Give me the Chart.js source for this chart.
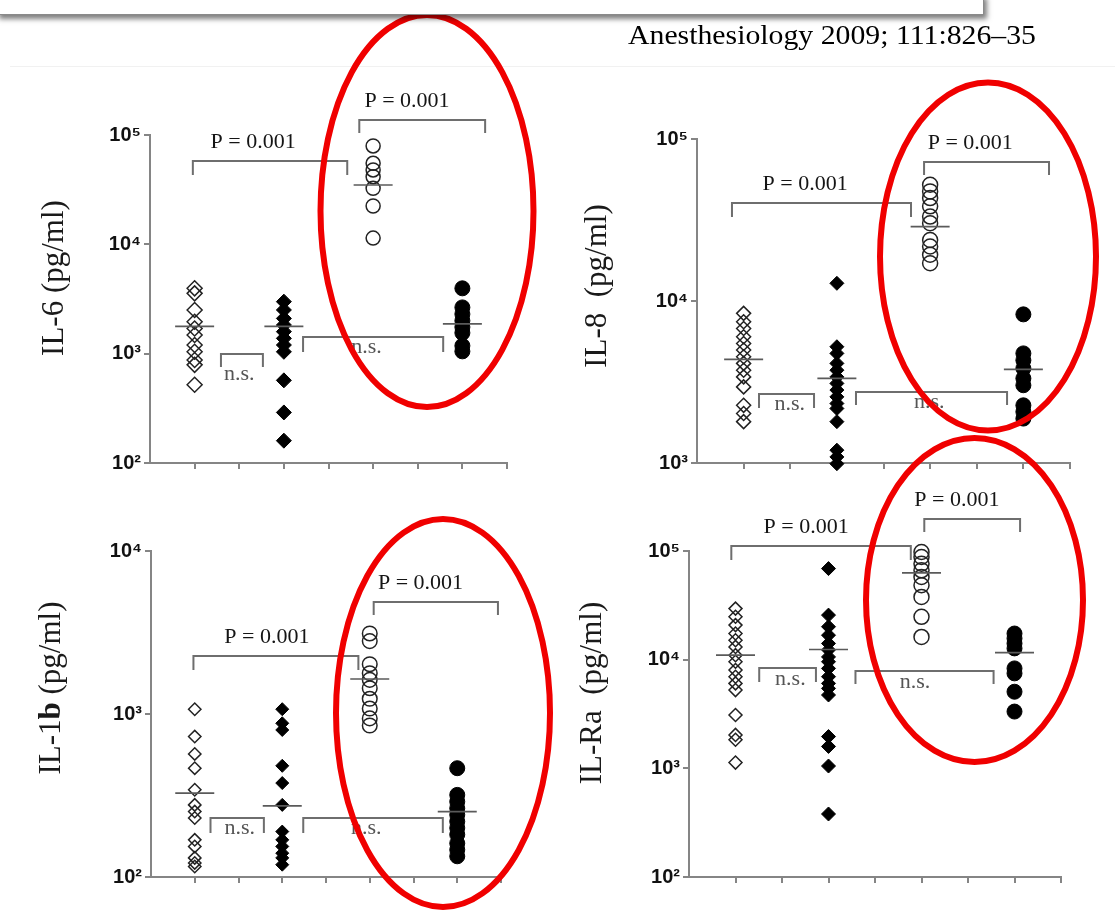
<!DOCTYPE html>
<html><head><meta charset="utf-8">
<script src="https://cdn.jsdelivr.net/npm/chart.js@4.4.1/dist/chart.umd.min.js"></script>
<style>
html,body{margin:0;padding:0;background:#fff;}
#wrap{position:relative;width:1115px;height:911px;overflow:hidden;background:#fff;}
canvas{position:absolute;left:0;top:0;}
#edge{position:absolute;left:10px;top:66px;width:1105px;height:1px;background:#f1f1f1;}
#box{position:absolute;left:-4px;top:-6px;width:986px;height:19px;border:1px solid #8a8a8a;background:#fff;box-shadow:3px 4px 5px rgba(0,0,0,.5);}
#cite{position:absolute;left:628px;top:22px;font-family:"Liberation Serif",serif;font-size:27px;line-height:27px;color:#000;white-space:nowrap;transform-origin:0 0;}
</style></head><body>
<div id="wrap">
<div id="edge"></div>
<canvas id="c1" width="1115" height="911"></canvas>
<canvas id="c2" width="1115" height="911"></canvas>
<canvas id="c3" width="1115" height="911"></canvas>
<canvas id="c4" width="1115" height="911"></canvas>
<div id="box"></div>
<div id="cite">Anesthesiology 2009; 111:826–35</div>
</div>
<script>
// ---------- data ----------
const groupPos = [1, 3, 5, 7];
const SUP = {2: '²', 3: '³', 4: '⁴', 5: '⁵'};

// IL-6
const il6Ticks = [1e2, 1e3, 1e4, 1e5];
const il6OpenDiamond   = [3960, 3560, 2510, 1960, 1700, 1480, 1200, 1040, 875, 790, 520];
const il6FilledDiamond = [2990, 2510, 2100, 1830, 1590, 1380, 1200, 1040, 570, 290, 160];
const il6OpenCircle    = [79400, 55100, 47900, 41600, 32500, 22400, 11400];
const il6FilledCircle  = [3960, 2650, 2300, 2000, 1750, 1550, 1180, 1050];
const il6Median        = [1780, 1780, 34900, 1870];

// IL-8
const il8Ticks = [1e3, 1e4, 1e5];
const il8OpenDiamond   = [8390, 7450, 6770, 6020, 5470, 4980, 4530, 4120, 3740, 3400, 2950, 2270, 2020, 1800];
const il8FilledDiamond = [12860, 5220, 4750, 4120, 3740, 3400, 3100, 2820, 2560, 2330, 2170, 1800, 1200, 1090, 990];
const il8OpenCircle    = [52200, 47500, 43200, 38400, 33200, 30200, 23800, 21700, 19300, 17100];
const il8FilledCircle  = [8270, 4750, 4310, 3840, 3330, 3020, 2270, 2070, 1880];
const il8Median        = [4360, 3330, 28800, 3780];

// IL-1b
const il1bTicks = [1e2, 1e3, 1e4];
const il1bOpenDiamond   = [1070, 727, 569, 465, 343, 277, 252, 230, 169, 154, 131, 122, 116];
const il1bFilledDiamond = [1070, 877, 798, 481, 377, 277, 190, 169, 154, 140, 131, 119];
const il1bOpenCircle    = [3120, 2800, 2020, 1780, 1620, 1440, 1240, 1080, 940, 850];
const il1bFilledCircle  = [465, 319, 290, 264, 241, 219, 200, 182, 161, 147, 134];
const il1bMedian        = [327, 273, 1640, 252];

// IL-Ra
const ilraTicks = [1e2, 1e3, 1e4, 1e5];
const ilraOpenDiamond   = [29500, 24800, 20800, 17400, 15100, 13100, 11000, 9570, 8020, 6970, 6050, 5250, 3100, 2030, 1830, 1130];
const ilraFilledDiamond = [68900, 25700, 20100, 16800, 14100, 12300, 10600, 9570, 8310, 6970, 6050, 5440, 4730, 1960, 1590, 1050, 380];
const ilraOpenCircle    = [97900, 88100, 76500, 66400, 57700, 48400, 37800, 24800, 16200];
const ilraFilledCircle  = [17400, 15700, 14100, 12700, 8310, 7480, 5070, 3330];
const ilraMedian        = [11000, 12400, 62800, 11600];

// significance brackets: from/to (x units), top/leg (y values), label, label x
const il6Brackets = [
  {from: 0.96, to: 4.42, top: 57800, leg: 43100, text: 'P = 0.001', at: 2.31, dy: -13},
  {from: 4.69, to: 7.51, top: 137000, leg: 104300, text: 'P = 0.001', at: 5.76, dy: -13},
  {from: 1.59, to: 2.53, top: 993, leg: 755, text: 'n.s.', at: 2.0, dy: 26},
  {from: 3.43, to: 6.57, top: 1419, leg: 1035, text: 'n.s.', at: 4.85, dy: 16}
];
const il8Brackets = [
  {from: 0.75, to: 4.59, top: 40270, leg: 33040, text: 'P = 0.001', at: 2.32, dy: -13},
  {from: 4.87, to: 7.55, top: 72100, leg: 59970, text: 'P = 0.001', at: 5.86, dy: -13},
  {from: 1.33, to: 2.51, top: 2667, leg: 2188, text: 'n.s.', at: 1.99, dy: 16},
  {from: 3.41, to: 6.65, top: 2743, leg: 2281, text: 'n.s.', at: 4.98, dy: 16}
];
const il1bBrackets = [
  {from: 0.97, to: 4.74, top: 2270, leg: 1862, text: 'P = 0.001', at: 2.65, dy: -13},
  {from: 5.09, to: 7.93, top: 4865, leg: 4045, text: 'P = 0.001', at: 6.16, dy: -13},
  {from: 1.36, to: 2.58, top: 230, leg: 186, text: 'n.s.', at: 2.03, dy: 16},
  {from: 3.48, to: 6.67, top: 230, leg: 186, text: 'n.s.', at: 4.92, dy: 16}
];
const ilraBrackets = [
  {from: 0.91, to: 4.77, top: 111200, leg: 82600, text: 'P = 0.001', at: 2.52, dy: -13},
  {from: 5.06, to: 7.12, top: 196900, leg: 149600, text: 'P = 0.001', at: 5.76, dy: -13},
  {from: 1.51, to: 2.73, top: 8380, leg: 6240, text: 'n.s.', at: 2.18, dy: 17},
  {from: 3.58, to: 6.55, top: 7870, leg: 5970, text: 'n.s.', at: 4.86, dy: 17}
];

// ---------- layout ----------
const panels = [
  {id: 'c1', area: {l: 150, t: 135, r: 507, b: 463}, ticks: il6Ticks,
   series: [il6OpenDiamond, il6FilledDiamond, il6OpenCircle, il6FilledCircle], median: il6Median,
   brackets: il6Brackets, radius: [7.5, 7.5, 7, 7.5],
   title: [['IL-6 (pg/ml)', 'normal']], titleAt: [63, 278]},
  {id: 'c2', area: {l: 697, t: 139, r: 1070, b: 463}, ticks: il8Ticks,
   series: [il8OpenDiamond, il8FilledDiamond, il8OpenCircle, il8FilledCircle], median: il8Median,
   brackets: il8Brackets, radius: [7, 7, 7.5, 7.5],
   title: [['IL-8  (pg/ml)', 'normal']], titleAt: [606, 286]},
  {id: 'c3', area: {l: 151, t: 551, r: 501, b: 877}, ticks: il1bTicks,
   series: [il1bOpenDiamond, il1bFilledDiamond, il1bOpenCircle, il1bFilledCircle], median: il1bMedian,
   brackets: il1bBrackets, radius: [6.2, 6.5, 7.3, 7.5],
   title: [['IL-1', 'normal'], ['b', 'bold'], [' (pg/ml)', 'normal']], titleAt: [60, 688]},
  {id: 'c4', area: {l: 689, t: 551, r: 1061, b: 877}, ticks: ilraTicks,
   series: [ilraOpenDiamond, ilraFilledDiamond, ilraOpenCircle, ilraFilledCircle], median: ilraMedian,
   brackets: ilraBrackets, radius: [6.5, 7, 7.5, 7.5],
   title: [['IL-Ra  (pg/ml)', 'normal']], titleAt: [601, 693]}
];

const ellipses = [
  {cx: 427, cy: 211, rx: 106.5, ry: 196},
  {cx: 988, cy: 256.5, rx: 108, ry: 174},
  {cx: 443, cy: 713, rx: 107, ry: 194},
  {cx: 974.5, cy: 600, rx: 108.5, ry: 162}
];

const AXIS = '#858585';
const W = 1115, H = 911, YW = 60, XH = 20;

function makeDecor(p) {
  return {
    id: 'decor_' + p.id,
    afterDatasetsDraw(chart) {
      const ctx = chart.ctx, xs = chart.scales.x, ys = chart.scales.y;
      ctx.save();
      p.brackets.forEach(b => {
        const x1 = xs.getPixelForValue(b.from), x2 = xs.getPixelForValue(b.to);
        const yt = ys.getPixelForValue(b.top), yl = ys.getPixelForValue(b.leg);
        ctx.strokeStyle = '#6e6e6e'; ctx.lineWidth = 2;
        ctx.beginPath(); ctx.moveTo(x1, yl); ctx.lineTo(x1, yt); ctx.lineTo(x2, yt); ctx.lineTo(x2, yl); ctx.stroke();
        const ns = b.text === 'n.s.';
        ctx.font = '22px "Liberation Serif", serif';
        ctx.fillStyle = ns ? '#555' : '#151515';
        ctx.textAlign = 'center'; ctx.textBaseline = 'alphabetic';
        ctx.fillText(b.text, xs.getPixelForValue(b.at), yt + b.dy);
      });
      // y-axis title (rotated, mixed weights)
      ctx.translate(p.titleAt[0], p.titleAt[1]);
      ctx.rotate(-Math.PI / 2);
      ctx.textBaseline = 'alphabetic'; ctx.textAlign = 'left'; ctx.fillStyle = '#1a1a1a';
      let total = 0;
      const widths = p.title.map(([t, w]) => { ctx.font = w + ' 31px "Liberation Serif", serif'; const m = ctx.measureText(t).width; total += m; return m; });
      let x = -total / 2;
      p.title.forEach(([t, w], i) => { ctx.font = w + ' 31px "Liberation Serif", serif'; ctx.fillText(t, x, 0); x += widths[i]; });
      ctx.restore();
    }
  };
}

const ellipsePlugin = {
  id: 'ellipses',
  afterDraw(chart) {
    const ctx = chart.ctx;
    ctx.save();
    ctx.strokeStyle = '#f00000'; ctx.lineWidth = 6;
    ellipses.forEach(e => { ctx.beginPath(); ctx.ellipse(e.cx, e.cy, e.rx, e.ry, 0, 0, Math.PI * 2); ctx.stroke(); });
    ctx.restore();
  }
};

const styles = [
  {pointStyle: 'rectRot', bg: 'rgba(0,0,0,0)', border: '#222', bw: 1.5},
  {pointStyle: 'rectRot', bg: '#000', border: '#000', bw: 1},
  {pointStyle: 'circle', bg: 'rgba(0,0,0,0)', border: '#222', bw: 1.5},
  {pointStyle: 'circle', bg: '#000', border: '#000', bw: 1}
];

panels.forEach((p, pi) => {
  const datasets = p.series.map((vals, i) => ({
    data: vals.map(v => ({x: groupPos[i], y: v})),
    pointStyle: styles[i].pointStyle, pointRadius: p.radius[i],
    backgroundColor: styles[i].bg, borderColor: styles[i].border, pointBorderWidth: styles[i].bw,
    showLine: false, clip: false, order: 1
  }));
  datasets.push({
    data: p.median.map((v, i) => ({x: groupPos[i], y: v})),
    pointStyle: 'line', pointRadius: 19.5, borderColor: '#5a5a5a', pointBorderWidth: 1.7,
    backgroundColor: 'transparent', showLine: false, clip: false, order: 0
  });
  const a = p.area;
  new Chart(document.getElementById(p.id), {
    type: 'scatter',
    data: {datasets},
    options: {
      responsive: false, animation: false, events: [],
      layout: {padding: {left: a.l - YW, top: a.t, right: W - a.r, bottom: H - a.b - XH}},
      plugins: {legend: {display: false}, tooltip: {enabled: false}},
      scales: {
        x: {
          type: 'linear', min: 0, max: 8,
          afterBuildTicks: s => { s.ticks = [1, 2, 3, 4, 5, 6, 7, 8].map(v => ({value: v})); },
          afterFit: s => { s.height = XH; },
          ticks: {callback: () => ''},
          grid: {drawOnChartArea: false, drawTicks: true, tickLength: 6, color: AXIS, lineWidth: 2},
          border: {display: true, color: AXIS, width: 2}
        },
        y: {
          type: 'logarithmic', min: p.ticks[0], max: p.ticks[p.ticks.length - 1],
          afterBuildTicks: s => { s.ticks = p.ticks.map(v => ({value: v})); },
          afterFit: s => { s.width = YW; },
          ticks: {
            autoSkip: false, padding: 3, color: '#111',
            font: {family: '"Liberation Sans", "DejaVu Sans", sans-serif', size: 20, weight: 'bold'},
            callback: v => '10' + SUP[Math.round(Math.log10(v))]
          },
          grid: {drawOnChartArea: false, drawTicks: true, tickLength: 6, color: AXIS, lineWidth: 2},
          border: {display: true, color: AXIS, width: 2}
        }
      }
    },
    plugins: pi === panels.length - 1 ? [makeDecor(p), ellipsePlugin] : [makeDecor(p)]
  });
});

// citation width fit
const cite = document.getElementById('cite');
cite.style.transform = 'scaleX(' + (408 / cite.offsetWidth) + ')';
</script>
</body></html>
